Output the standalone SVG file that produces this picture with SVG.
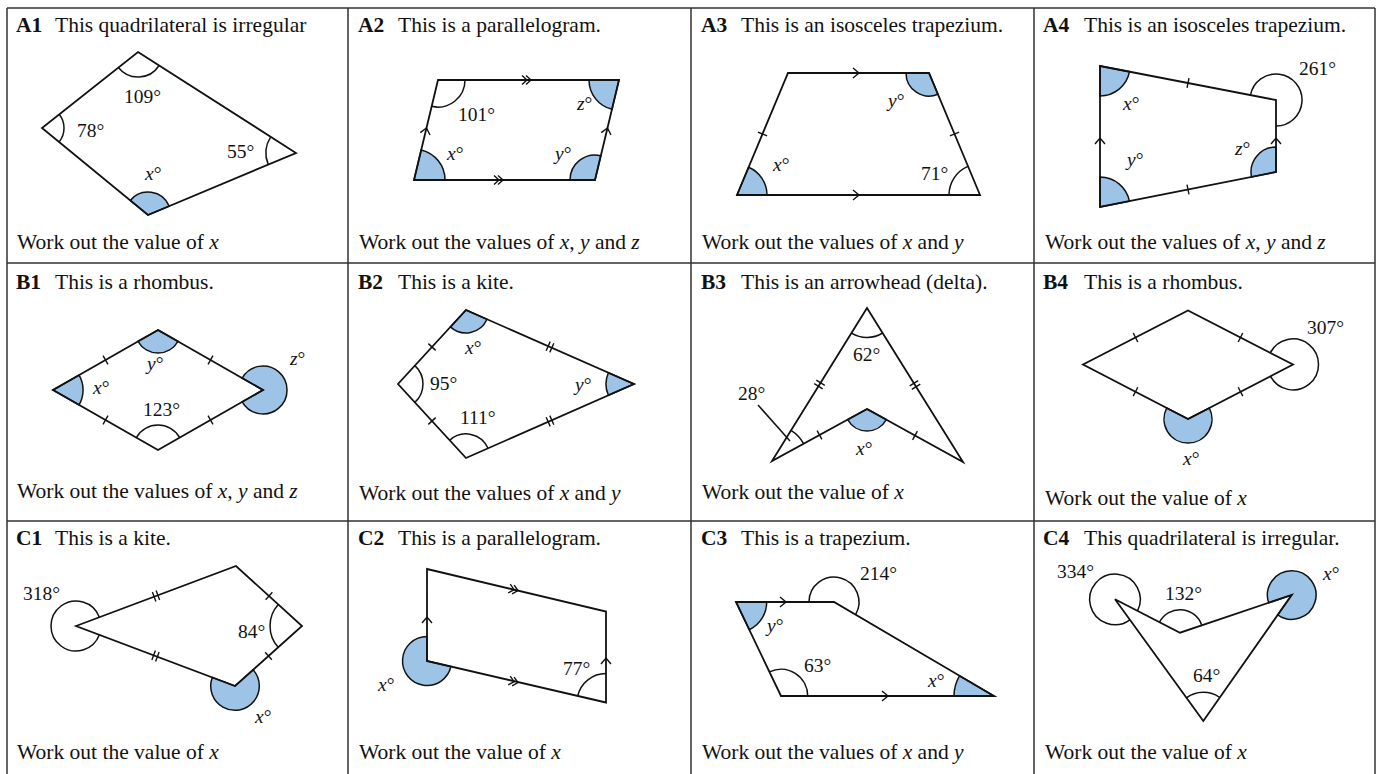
<svg xmlns="http://www.w3.org/2000/svg" xmlns:xlink="http://www.w3.org/1999/xlink" width="1381" height="774" viewBox="0 0 1381 774">
<style>
.edge{fill:none;stroke:#111;stroke-width:1.8;stroke-linejoin:miter}
.arc{fill:none;stroke:#111;stroke-width:1.5}
.fill{fill:#9dc3e6;stroke:#111;stroke-width:1.5}
.mk{fill:none;stroke:#111;stroke-width:1.4}
.grid{fill:none;stroke:#333;stroke-width:1.5}
.t{font-family:"Liberation Serif","Times New Roman",serif;font-size:21.5px;fill:#111}
.b{font-weight:bold}
.lb{font-family:"Liberation Serif","Times New Roman",serif;font-size:19.5px;fill:#111}
.i{font-style:italic}
</style>
<defs>
<path id="chev" d="M-6,-5 L0,0 L-6,5"/>
<path id="chev2" d="M-8,-4.5 L-3,0 L-8,4.5 M-4,-4.5 L1,0 L-4,4.5"/>
<path id="tick" d="M0,-5 L0,5"/>
<path id="tick2" d="M-2,-5 L-2,5 M2,-5 L2,5"/>
</defs>
<rect width="1381" height="774" fill="#fff"/>
<g id="grid" class="grid">
<path d="M7,8 H1375 M7,263 H1375 M7,521 H1375 M7,8 V774 M348,8 V774 M691,8 V774 M1034,8 V774 M1375,8 V774"/>
</g>

<g id="A1">
<text class="t" x="16" y="32"><tspan class="b">A1</tspan></text>
<text class="t" x="55" y="32">This quadrilateral is irregular</text>
<path class="fill" d="M148,215 L130.2,200.4 A23,23 0 0 1 169.2,206.1 Z"/>
<polygon class="edge" points="138,52 296,153 148,215 42,128"/>
<path class="arc" d="M159.1,65.5 A25,25 0 0 1 118.4,67.5"/>
<path class="arc" d="M59.2,114.3 A22,22 0 0 1 59,142"/>
<path class="arc" d="M268.3,164.6 A30,30 0 0 1 270.7,136.8"/>
<text class="lb" x="124" y="103">109°</text>
<text class="lb" x="77" y="137">78°</text>
<text class="lb" x="227" y="158">55°</text>
<text class="lb" x="145" y="180"><tspan class="i">x</tspan>°</text>
<text class="t" x="17" y="249">Work out the value of <tspan class="i">x</tspan></text>
</g>

<g id="A2">
<text class="t" x="358" y="32"><tspan class="b">A2</tspan></text>
<text class="t" x="398" y="32">This is a parallelogram.</text>
<path class="fill" d="M619,80 L612,109.2 A30,30 0 0 1 589,80 Z"/>
<path class="fill" d="M595,180 L570,180 A25,25 0 0 1 600.8,155.7 Z"/>
<path class="fill" d="M414,180 L421.2,149.9 A31,31 0 0 1 445,180 Z"/>
<polygon class="edge" points="438,80 619,80 595,180 414,180"/>
<path class="arc" d="M465,80 A27,27 0 0 1 431.7,106.3"/>
<use href="#chev2" class="mk" transform="translate(530,80)"/>
<use href="#chev2" class="mk" transform="translate(502,180)"/>
<use href="#chev" class="mk" transform="translate(426.5,128) rotate(-76.5)"/>
<use href="#chev" class="mk" transform="translate(607.5,128) rotate(-76.5)"/>
<text class="lb" x="458" y="121">101°</text>
<text class="lb" x="577" y="110"><tspan class="i">z</tspan>°</text>
<text class="lb" x="447" y="160"><tspan class="i">x</tspan>°</text>
<text class="lb" x="555" y="160"><tspan class="i">y</tspan>°</text>
<text class="t" x="359" y="249">Work out the values of <tspan class="i">x</tspan>, <tspan class="i">y</tspan> and <tspan class="i">z</tspan></text>
</g>

<g id="A3">
<text class="t" x="701" y="32"><tspan class="b">A3</tspan></text>
<text class="t" x="741" y="32">This is an isosceles trapezium.</text>
<path class="fill" d="M929,73 L937.9,94.2 A23,23 0 0 1 906,73 Z"/>
<path class="fill" d="M737,195 L748.6,167.3 A30,30 0 0 1 767,195 Z"/>
<polygon class="edge" points="788,73 929,73 980,195 737,195"/>
<path class="arc" d="M949,195 A31,31 0 0 1 968,166.4"/>
<use href="#tick" class="mk" transform="translate(762.5,134) rotate(-67.3)"/>
<use href="#tick" class="mk" transform="translate(954.5,134) rotate(67.3)"/>
<use href="#chev" class="mk" transform="translate(859,73)"/>
<use href="#chev" class="mk" transform="translate(859,195)"/>
<text class="lb" x="888" y="107"><tspan class="i">y</tspan>°</text>
<text class="lb" x="773" y="171"><tspan class="i">x</tspan>°</text>
<text class="lb" x="921" y="180">71°</text>
<text class="t" x="702" y="249">Work out the values of <tspan class="i">x</tspan> and <tspan class="i">y</tspan></text>
</g>

<g id="A4">
<text class="t" x="1043" y="32"><tspan class="b">A4</tspan></text>
<text class="t" x="1084" y="32">This is an isosceles trapezium.</text>
<path class="fill" d="M1100,66 L1129.5,71.7 A30,30 0 0 1 1100,96 Z"/>
<path class="fill" d="M1100,207 L1100,177 A30,30 0 0 1 1129.4,201.2 Z"/>
<path class="fill" d="M1276,172 L1251.5,176.9 A25,25 0 0 1 1276,147 Z"/>
<polygon class="edge" points="1100,66 1276,100 1276,172 1100,207"/>
<path class="arc" d="M1250.5,95.1 A26,26 0 1 1 1276,126"/>
<use href="#tick" class="mk" transform="translate(1188,83) rotate(10.9)"/>
<use href="#tick" class="mk" transform="translate(1188,189.5) rotate(-11.2)"/>
<use href="#chev" class="mk" transform="translate(1100,138) rotate(-90)"/>
<use href="#chev" class="mk" transform="translate(1276,138) rotate(-90)"/>
<text class="lb" x="1299" y="75">261°</text>
<text class="lb" x="1123" y="110"><tspan class="i">x</tspan>°</text>
<text class="lb" x="1127" y="166"><tspan class="i">y</tspan>°</text>
<text class="lb" x="1235" y="155"><tspan class="i">z</tspan>°</text>
<text class="t" x="1045" y="249">Work out the values of <tspan class="i">x</tspan>, <tspan class="i">y</tspan> and <tspan class="i">z</tspan></text>
</g>

<g id="B1">
<text class="t" x="16" y="289"><tspan class="b">B1</tspan></text>
<text class="t" x="55" y="289">This is a rhombus.</text>
<path class="fill" d="M158,330 L178,341.4 A23,23 0 0 1 138,341.4 Z"/>
<path class="fill" d="M53,390 L79.1,375.1 A30,30 0 0 1 79.1,404.9 Z"/>
<path class="fill" d="M263,390 L242.2,378.1 A24,24 0 1 1 242.2,401.9 Z"/>
<polygon class="edge" points="53,390 158,330 263,390 158,450"/>
<path class="arc" d="M136.3,437.6 A25,25 0 0 1 179.7,437.6"/>
<use href="#tick" class="mk" transform="translate(105.5,360) rotate(-29.7)"/>
<use href="#tick" class="mk" transform="translate(210.5,360) rotate(29.7)"/>
<use href="#tick" class="mk" transform="translate(105.5,420) rotate(29.7)"/>
<use href="#tick" class="mk" transform="translate(210.5,420) rotate(-29.7)"/>
<text class="lb" x="147" y="370"><tspan class="i">y</tspan>°</text>
<text class="lb" x="93" y="394"><tspan class="i">x</tspan>°</text>
<text class="lb" x="143" y="416">123°</text>
<text class="lb" x="290" y="365"><tspan class="i">z</tspan>°</text>
<text class="t" x="17" y="498">Work out the values of <tspan class="i">x</tspan>, <tspan class="i">y</tspan> and <tspan class="i">z</tspan></text>
</g>

<g id="B2">
<text class="t" x="358" y="289"><tspan class="b">B2</tspan></text>
<text class="t" x="398" y="289">This is a kite.</text>
<path class="fill" d="M466,310 L487,319.3 A23,23 0 0 1 450.4,326.9 Z"/>
<path class="fill" d="M634,384 L608.4,395.3 A28,28 0 0 1 608.4,372.7 Z"/>
<polygon class="edge" points="466,310 634,384 466,458 398,384"/>
<path class="arc" d="M414.9,365.6 A25,25 0 0 1 414.9,402.4"/>
<path class="arc" d="M449.7,440.3 A24,24 0 0 1 488,448.3"/>
<use href="#tick" class="mk" transform="translate(432,347) rotate(-47.4)"/>
<use href="#tick" class="mk" transform="translate(432,421) rotate(47.4)"/>
<use href="#tick2" class="mk" transform="translate(550,347) rotate(23.8)"/>
<use href="#tick2" class="mk" transform="translate(550,421) rotate(-23.8)"/>
<text class="lb" x="465" y="354"><tspan class="i">x</tspan>°</text>
<text class="lb" x="430" y="390">95°</text>
<text class="lb" x="575" y="391"><tspan class="i">y</tspan>°</text>
<text class="lb" x="460" y="424">111°</text>
<text class="t" x="359" y="500">Work out the values of <tspan class="i">x</tspan> and <tspan class="i">y</tspan></text>
</g>

<g id="B3">
<text class="t" x="701" y="289"><tspan class="b">B3</tspan></text>
<text class="t" x="741" y="289">This is an arrowhead (delta).</text>
<path class="fill" d="M867,409 L886.3,419.6 A22,22 0 0 1 847.7,419.6 Z"/>
<polygon class="edge" points="867,308 963,462 867,409 772,461"/>
<path class="arc" d="M882.6,333 A29.5,29.5 0 0 1 851.5,333.1"/>
<path class="arc" d="M791,430.4 A36,36 0 0 1 803.6,443.7"/>
<path class="arc" d="M758,405 L790,441"/>
<use href="#tick2" class="mk" transform="translate(819.5,384.5) rotate(-58.2)"/>
<use href="#tick2" class="mk" transform="translate(915,385) rotate(58.1)"/>
<use href="#tick" class="mk" transform="translate(819.5,435) rotate(-28.7)"/>
<use href="#tick" class="mk" transform="translate(915,435.5) rotate(28.9)"/>
<text class="lb" x="853" y="361">62°</text>
<text class="lb" x="738" y="400">28°</text>
<text class="lb" x="856" y="455"><tspan class="i">x</tspan>°</text>
<text class="t" x="702" y="499">Work out the value of <tspan class="i">x</tspan></text>
</g>

<g id="B4">
<text class="t" x="1043" y="289"><tspan class="b">B4</tspan></text>
<text class="t" x="1084" y="289">This is a rhombus.</text>
<path class="fill" d="M1188,419 L1209.3,408 A24,24 0 1 1 1166.7,408 Z"/>
<polygon class="edge" points="1083,364.5 1188,310.5 1293,364.5 1188,419"/>
<path class="arc" d="M1270.3,352.8 A25.5,25.5 0 1 1 1270.4,376.2"/>
<use href="#tick" class="mk" transform="translate(1135.5,337.5) rotate(-27.2)"/>
<use href="#tick" class="mk" transform="translate(1240.5,337.5) rotate(27.2)"/>
<use href="#tick" class="mk" transform="translate(1135.5,391.7) rotate(27.4)"/>
<use href="#tick" class="mk" transform="translate(1240.5,391.7) rotate(-27.4)"/>
<text class="lb" x="1307" y="334">307°</text>
<text class="lb" x="1183" y="465"><tspan class="i">x</tspan>°</text>
<text class="t" x="1045" y="505">Work out the value of <tspan class="i">x</tspan></text>
</g>

<g id="C1">
<text class="t" x="16" y="545"><tspan class="b">C1</tspan></text>
<text class="t" x="55" y="545">This is a kite.</text>
<path class="fill" d="M235,686 L253.1,669.8 A24.3,24.3 0 1 1 212.3,677.4 Z"/>
<polygon class="edge" points="76,626 236,566 302,626 235,686"/>
<path class="arc" d="M99.4,634.8 A25,25 0 1 1 99.4,617.2"/>
<path class="arc" d="M278.2,647.3 A32,32 0 0 1 278.3,604.5"/>
<use href="#tick2" class="mk" transform="translate(156,596) rotate(-20.6)"/>
<use href="#tick2" class="mk" transform="translate(155.5,656) rotate(20.7)"/>
<use href="#tick" class="mk" transform="translate(269,596) rotate(42.3)"/>
<use href="#tick" class="mk" transform="translate(268.5,656) rotate(-41.8)"/>
<text class="lb" x="23" y="600">318°</text>
<text class="lb" x="238" y="638">84°</text>
<text class="lb" x="255" y="723"><tspan class="i">x</tspan>°</text>
<text class="t" x="17" y="759">Work out the value of <tspan class="i">x</tspan></text>
</g>

<g id="C2">
<text class="t" x="358" y="545"><tspan class="b">C2</tspan></text>
<text class="t" x="398" y="545">This is a parallelogram.</text>
<path class="fill" d="M427,661 L450.9,666.5 A24.5,24.5 0 1 1 427,636.5 Z"/>
<polygon class="edge" points="427,569 606,611.5 606,702.5 427,661"/>
<path class="arc" d="M577.7,696 A29,29 0 0 1 606,673.5"/>
<use href="#chev2" class="mk" transform="translate(517,590.4) rotate(13.4)"/>
<use href="#chev2" class="mk" transform="translate(517,682.4) rotate(13.05)"/>
<use href="#chev" class="mk" transform="translate(427,617) rotate(-90)"/>
<use href="#chev" class="mk" transform="translate(606,658) rotate(-90)"/>
<text class="lb" x="563" y="675">77°</text>
<text class="lb" x="378" y="691"><tspan class="i">x</tspan>°</text>
<text class="t" x="359" y="759">Work out the value of <tspan class="i">x</tspan></text>
</g>

<g id="C3">
<text class="t" x="701" y="545"><tspan class="b">C3</tspan></text>
<text class="t" x="741" y="545">This is a trapezium.</text>
<path class="fill" d="M736,602 L766.7,602 A30.7,30.7 0 0 1 749.3,629.7 Z"/>
<path class="fill" d="M994,696 L954,696 A40,40 0 0 1 959.5,675.8 Z"/>
<polygon class="edge" points="736,602 834,602 994,696 781,696"/>
<path class="arc" d="M809,602 A25,25 0 1 1 855.6,614.7"/>
<path class="arc" d="M769.5,671.9 A26.7,26.7 0 0 1 807.7,696"/>
<use href="#chev" class="mk" transform="translate(786,602)"/>
<use href="#chev" class="mk" transform="translate(888,696)"/>
<text class="lb" x="860" y="580">214°</text>
<text class="lb" x="767" y="632"><tspan class="i">y</tspan>°</text>
<text class="lb" x="804" y="672">63°</text>
<text class="lb" x="928" y="687"><tspan class="i">x</tspan>°</text>
<text class="t" x="702" y="759">Work out the values of <tspan class="i">x</tspan> and <tspan class="i">y</tspan></text>
</g>

<g id="C4">
<text class="t" x="1043" y="545"><tspan class="b">C4</tspan></text>
<text class="t" x="1084" y="545">This quadrilateral is irregular.</text>
<path class="fill" d="M1291.7,595 L1268.7,602.8 A24.3,24.3 0 1 1 1277.7,614.9 Z"/>
<polygon class="edge" points="1115,599.3 1180,632.7 1291.7,595 1203.3,721"/>
<path class="arc" d="M1129.9,619.8 A25.3,25.3 0 1 1 1137.5,610.9"/>
<path class="arc" d="M1159.5,622.2 A23,23 0 0 1 1201.8,625.3"/>
<path class="arc" d="M1186.4,697.8 A28.7,28.7 0 0 1 1219.8,697.5"/>
<text class="lb" x="1057" y="578">334°</text>
<text class="lb" x="1165" y="600">132°</text>
<text class="lb" x="1323" y="580"><tspan class="i">x</tspan>°</text>
<text class="lb" x="1193" y="682">64°</text>
<text class="t" x="1045" y="759">Work out the value of <tspan class="i">x</tspan></text>
</g>
</svg>
